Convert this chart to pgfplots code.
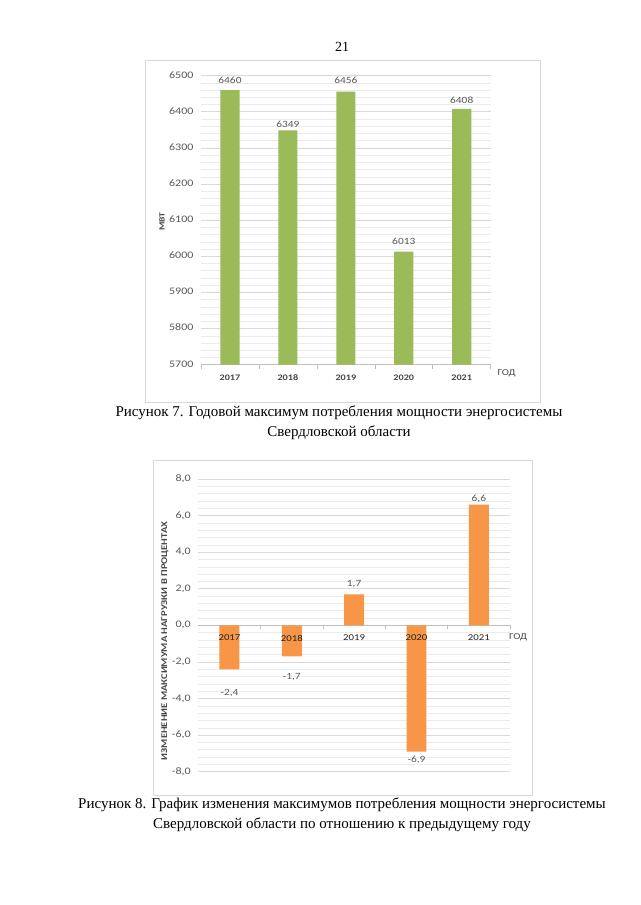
\documentclass[border=0pt]{standalone}
\usepackage{fontspec}
\setmainfont{Liberation Serif}
\newfontfamily\calfont[FakeStretch=1.2]{Carlito}
\usepackage{pgfplots}
\pgfplotsset{compat=1.18}
\definecolor{barG}{HTML}{9BBB59}
\definecolor{barO}{HTML}{F79646}
\definecolor{gridM}{HTML}{D9D9D9}
\definecolor{gridm}{HTML}{EBEBEB}
\definecolor{axln}{HTML}{BFBFBF}
\definecolor{txt}{HTML}{595959}
\definecolor{frm}{HTML}{D9D9D9}
\begin{document}
\begin{tikzpicture}
\fill[white] (0pt,0pt) rectangle (640pt,-905pt);
\path[use as bounding box] (0pt,0pt) rectangle (640pt,-905pt);
\draw[frm, line width=0.8pt] (145pt,-60pt) rectangle (540pt,-402pt);
\draw[frm, line width=0.8pt] (153pt,-460pt) rectangle (532pt,-795pt);
\node[font=\fontsize{14}{16}\selectfont] at (342pt,-47pt) {21};
\node[align=center, font=\fontsize{15}{20}\selectfont] at (339pt,-423pt)
  {Рисунок 7. Годовой максимум потребления мощности энергосистемы\\Свердловской области};
\node[align=center, font=\fontsize{15}{20}\selectfont] at (342pt,-815pt)
  {Рисунок 8. График изменения максимумов потребления мощности энергосистемы\\Свердловской области по отношению к предыдущему году};

\begin{axis}[
  at={(201pt,-364.7pt)}, anchor=south west,
  scale only axis, width=289.7pt, height=289pt,
  xmin=-0.5, xmax=4.5, ymin=5700, ymax=6500,
  axis x line*=bottom, axis y line*=left,
  x axis line style={axln, line width=0.8pt},
  y axis line style={draw=none},
  xtick={-0.5,0.5,...,4.5}, x tick label as interval,
  xticklabels={2017,2018,2019,2020,2021},
  typeset ticklabels with strut,
  xtick style={axln, line width=0.6pt}, tick align=outside, major tick length=4pt,
  ytick={5700,5800,...,6500},
  yticklabels={5700,5800,5900,6000,6100,6200,6300,6400,6500},
  ytick style={draw=none}, minor tick length=0pt,
  minor y tick num=4,
  ymajorgrids, yminorgrids,
  major grid style={gridM, line width=0.8pt},
  minor grid style={gridm, line width=0.6pt},
  yticklabel style={font=\calfont\fontsize{10}{12}\selectfont, text=txt},
  xticklabel style={font=\calfont\bfseries\fontsize{8.5}{10}\selectfont, text=txt!80!black, yshift=-1pt},
  ylabel={МВТ}, xlabel={ГОД},
  every axis y label/.style={at={(axis description cs:-0.1346,0.495)}, rotate=90, anchor=center, font=\calfont\bfseries\fontsize{8}{10}\selectfont, text=txt!80!black},
  every axis x label/.style={at={(axis description cs:1.055,-0.029)}, anchor=center, font=\calfont\fontsize{9}{10}\selectfont, text=txt!80!black},
  clip=false,
]
\addplot[ybar, bar width=0.33, fill=barG, draw=none] coordinates {(0,6460) (1,6349) (2,6456) (3,6013) (4,6408)};
\addplot[draw=none, mark=none, nodes near coords, point meta=explicit symbolic,
  nodes near coords style={anchor=center, font=\calfont\fontsize{9.5}{10}\selectfont, text=txt}]
  coordinates {(0,6488)[6460] (1,6366)[6349] (2,6486)[6456] (3,6042)[6013] (4,6432)[6408]};
\end{axis}

\begin{axis}[
  at={(198.3pt,-771.7pt)}, anchor=south west,
  scale only axis, width=311.7pt, height=292.7pt,
  xmin=-0.5, xmax=4.5, ymin=-8, ymax=8,
  axis x line*=middle, axis y line*=left,
  x axis line style={axln, line width=0.8pt},
  y axis line style={draw=none},
  xtick={-0.5,0.5,...,4.5}, xticklabels={},
  xtick style={axln, line width=0.6pt}, tick align=outside, major tick length=4pt,
  ytick={-8,-6,...,8},
  yticklabels={{-8,0},{-6,0},{-4,0},{-2,0},{0,0},{2,0},{4,0},{6,0},{8,0}},
  ytick style={draw=none}, minor tick length=0pt,
  minor y tick num=4,
  ymajorgrids, yminorgrids,
  major grid style={gridM, line width=0.8pt},
  minor grid style={gridm, line width=0.6pt},
  yticklabel style={font=\calfont\fontsize{10}{12}\selectfont, text=txt},
  ylabel={ИЗМЕНЕНИЕ МАКСИМУМА НАГРУЗКИ В ПРОЦЕНТАХ}, xlabel={ГОД},
  every axis y label/.style={at={(axis description cs:-0.107,0.447)}, rotate=90, anchor=center, font=\calfont\bfseries\fontsize{8.8}{10}\selectfont, text=txt!80!black},
  every axis x label/.style={at={(axis description cs:1.026,0.458)}, anchor=center, font=\calfont\fontsize{9}{10}\selectfont, text=txt!80!black},
  clip=false,
]
\addplot[ybar, bar width=0.32, fill=barO, draw=none] coordinates {(0,-2.4) (1,-1.7) (2,1.7) (3,-6.9) (4,6.6)};
\addplot[draw=none, mark=none, nodes near coords, point meta=explicit symbolic,
  nodes near coords style={anchor=center, font=\calfont\fontsize{9.5}{10}\selectfont, text=txt}]
  coordinates {(0,-3.70)[{-2,4}] (1,-2.83)[{-1,7}] (2,2.28)[{1,7}] (3,-7.38)[{-6,9}] (4,6.93)[{6,6}]};
\addplot[draw=none, mark=none, nodes near coords, point meta=explicit symbolic,
  nodes near coords style={anchor=center, font=\calfont\fontsize{9}{10}\selectfont, text=txt!40!black}]
  coordinates {(0,-0.69)[2017] (1,-0.69)[2018] (2,-0.69)[2019] (3,-0.69)[2020] (4,-0.69)[2021]};
\end{axis}
\end{tikzpicture}
\end{document}
